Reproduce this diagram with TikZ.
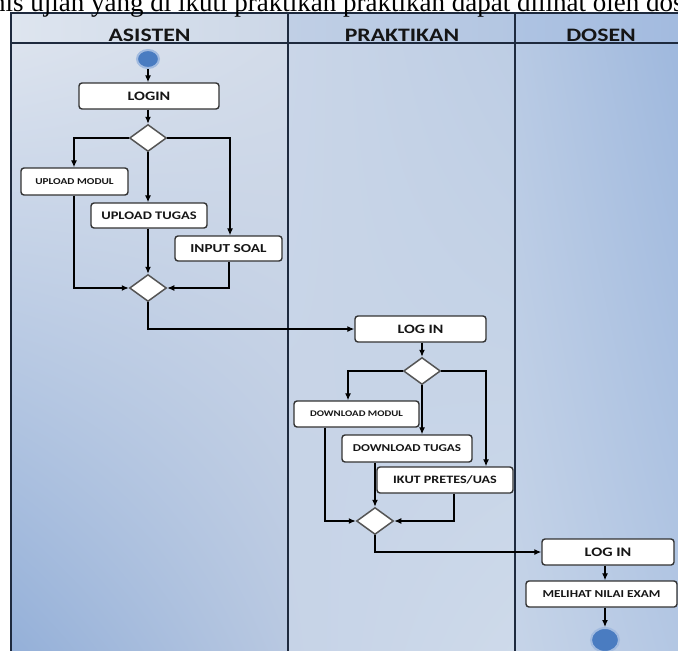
\documentclass[tikz,border=0pt]{standalone}
\usepackage{fontspec}
\setmainfont{Liberation Serif}
\newfontfamily\cb[FakeStretch=1.25]{Carlito}
\usetikzlibrary{shapes.geometric,arrows.meta,shadings}
\definecolor{lanel}{HTML}{1E2A3E}
\definecolor{boxline}{HTML}{333333}
\definecolor{dia}{HTML}{555555}
\definecolor{dotfill}{HTML}{4A7CC1}
\definecolor{dotring}{HTML}{A2BBE0}
\definecolor{txt}{HTML}{151515}
\definecolor{aHl}{HTML}{DEE5EF}
\definecolor{aHr}{HTML}{CCD7E7}
\definecolor{aUL}{HTML}{DCE3EE}
\definecolor{aUR}{HTML}{D2DBE9}
\definecolor{aLL}{HTML}{93AFD8}
\definecolor{aLR}{HTML}{B8C8E1}
\definecolor{pHl}{HTML}{C0CFE5}
\definecolor{pHr}{HTML}{B3C6E2}
\definecolor{pUL}{HTML}{CAD6E8}
\definecolor{pUR}{HTML}{BDCDE4}
\definecolor{pLL}{HTML}{C6D3E7}
\definecolor{pLR}{HTML}{CEDAEA}
\definecolor{dHl}{HTML}{AEC3E2}
\definecolor{dHr}{HTML}{A2BADF}
\definecolor{dUL}{HTML}{B8CAE4}
\definecolor{dUR}{HTML}{9DB7DD}
\definecolor{dLL}{HTML}{C6D4E8}
\definecolor{dLR}{HTML}{B2C6E3}
\tikzset{
  actbox/.style={draw=boxline, line width=1.4pt, fill=white, rounded corners=3pt,
    inner sep=0pt, text=txt},
  decis/.style={draw=dia, line width=1.5pt, fill=white, shape=diamond, inner sep=0pt,
    minimum width=37pt, minimum height=27pt},
  dot/.style={shape=ellipse, fill=dotfill, draw=dotring, line width=2pt, inner sep=0pt},
  arr/.style={draw=black, line width=1.2pt, -{Latex[length=7pt,width=6pt]}},
  lane/.style={draw=lanel, line width=1.3pt},
  hdr/.style={font=\cb\bfseries\fontsize{19}{19}\selectfont, text=txt, inner sep=0pt, anchor=base}
}
\newcommand{\bxf}[1]{\cb\bfseries\fontsize{#1}{#1}\selectfont}
\begin{document}
\begin{tikzpicture}[x=1pt,y=-1pt]
\useasboundingbox (0,0) rectangle (678,651);
\clip (0,0) rectangle (678,651);
\fill[white] (0,0) rectangle (678,651);
% lane backgrounds
\shade[upper left=aHl, upper right=aHr, lower left=aHl, lower right=aHr] (11,13) rectangle (288,43);
\shade[upper left=aUL, upper right=aUR, lower left=aLL, lower right=aLR] (11,43) rectangle (288,660);
\shade[upper left=pHl, upper right=pHr, lower left=pHl, lower right=pHr] (288,13) rectangle (515,43);
\shade[upper left=pUL, upper right=pUR, lower left=pLL, lower right=pLR] (288,43) rectangle (515,660);
\shade[upper left=dHl, upper right=dHr, lower left=dHl, lower right=dHr] (515,13) rectangle (690,43);
\shade[upper left=dUL, upper right=dUR, lower left=dLL, lower right=dLR] (515,43) rectangle (690,660);
% lane lines
\draw[lane] (11,660) -- (11,13) -- (690,13);
\draw[lane] (11,43) -- (690,43);
\draw[lane] (288,13) -- (288,660);
\draw[lane] (515,13) -- (515,660);
% caption line (cut off at the top)
\node[anchor=base west, inner sep=0pt, font=\fontsize{27}{27}\selectfont] (cap) at (-8,11)
  {nis ujian yang di ikuti praktikan praktikan dapat dilihat oleh dos};
% headers
\node[hdr] (hA) at (149.5,41) {ASISTEN};
\node[hdr] (hP) at (402,41) {PRAKTIKAN};
\node[hdr] (hD) at (601,41) {DOSEN};
% ASISTEN lane
\node[dot, minimum width=22pt, minimum height=18pt] (start) at (148,59) {};
\node[actbox, minimum width=140pt, minimum height=26pt, font=\bxf{12.9}] (login) at (149,96) {LOGIN};
\node[decis] (d1) at (148,138) {};
\node[actbox, minimum width=107pt, minimum height=27pt, font=\bxf{9}] (upmod) at (74.5,181.5) {UPLOAD MODUL};
\node[actbox, minimum width=116pt, minimum height=25pt, font=\bxf{11.6}] (uptug) at (149,215.5) {UPLOAD TUGAS};
\node[actbox, minimum width=107pt, minimum height=25pt, font=\bxf{12.2}] (insoal) at (228.5,248.5) {INPUT SOAL};
\node[decis] (m1) at (148,288) {};
% PRAKTIKAN lane
\node[actbox, minimum width=131pt, minimum height=26pt, font=\bxf{12.8}] (login2) at (420.5,329) {LOG IN};
\node[decis] (d2) at (422,371) {};
\node[actbox, minimum width=125pt, minimum height=26pt, font=\bxf{8.6}] (dlmod) at (356.5,414) {DOWNLOAD MODUL};
\node[actbox, minimum width=130pt, minimum height=27pt, font=\bxf{10.5}] (dltug) at (407,448.5) {DOWNLOAD TUGAS};
\node[actbox, minimum width=136pt, minimum height=26pt, font=\bxf{11.3}] (ikut) at (445,480) {IKUT PRETES/UAS};
\node[decis] (m2) at (375,521) {};
% DOSEN lane
\node[actbox, minimum width=132pt, minimum height=26pt, font=\bxf{13}] (login3) at (608,552) {LOG IN};
\node[actbox, minimum width=151pt, minimum height=26pt, font=\bxf{10.6}] (melihat) at (601.5,594) {MELIHAT NILAI EXAM};
\node[dot, minimum width=28pt, minimum height=24pt] (stop) at (605,640) {};
% connectors
\draw[arr] (start.south) -- (start.south |- login.north);
\draw[arr] (login.south -| d1) -- (d1.north);
\draw[arr] (d1.west) -| ([xshift=-0.5pt]upmod.north);
\draw[arr] (d1.south) -- (d1.south |- uptug.north);
\draw[arr] (d1.east) -| ([xshift=1.5pt]insoal.north);
\draw[arr] ([xshift=-0.5pt]upmod.south) |- (m1.west);
\draw[arr] (uptug.south -| m1) -- (m1.north);
\draw[arr] ([xshift=0.5pt]insoal.south) |- (m1.east);
\draw[arr] (m1.south) |- (login2.west);
\draw[arr] (login2.south -| d2) -- (d2.north);
\draw[arr] (d2.west) -| ([xshift=-8.5pt]dlmod.north);
\draw[arr] (d2.south) -- (d2.south |- dltug.north);
\draw[arr] (d2.east) -| ([xshift=41pt]ikut.north);
\draw[arr] ([xshift=-31.5pt]dlmod.south) |- (m2.west);
\draw[arr] (dltug.south -| m2) -- (m2.north);
\draw[arr] ([xshift=9pt]ikut.south) |- (m2.east);
\draw[arr] (m2.south) |- (login3.west);
\draw[arr] (login3.south -| stop) -- (melihat.north -| stop);
\draw[arr] (melihat.south -| stop) -- (stop.north);
\end{tikzpicture}
\end{document}
